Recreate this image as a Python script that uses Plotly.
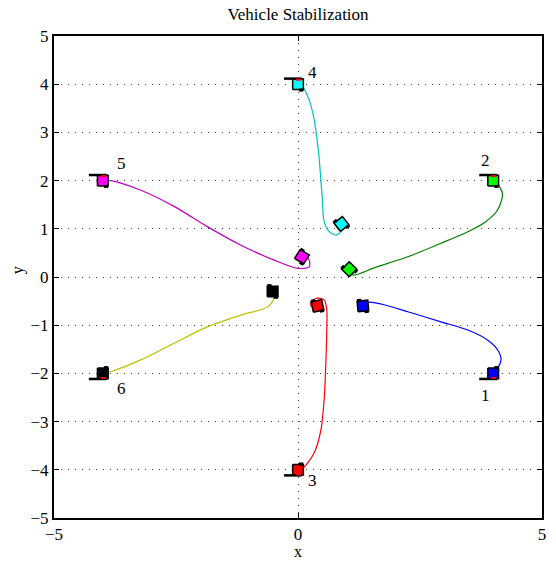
import numpy as np
import plotly.graph_objects as go

# ---------------- data ----------------
veh_ids = ["1", "2", "3", "4", "5", "6"]

traj1_x = [4.0, 4.06, 4.16, 4.09, 3.89, 3.48, 2.93, 2.25, 1.70, 1.46, 1.38, 1.33]
traj1_y = [-2.0, -1.94, -1.72, -1.51, -1.31, -1.10, -0.93, -0.72, -0.56, -0.52, -0.55, -0.60]

traj2_x = [4.0, 4.06, 4.19, 4.09, 3.81, 3.48, 2.93, 2.25, 1.56, 1.15, 0.96, 1.05]
traj2_y = [2.0, 1.97, 1.73, 1.39, 1.12, 0.94, 0.70, 0.42, 0.19, 0.04, 0.10, 0.16]

traj3_x = [0.0, 0.10, 0.33, 0.47, 0.54, 0.57, 0.59, 0.59, 0.54, 0.40, 0.27, 0.27, 0.40]
traj3_y = [-4.0, -3.97, -3.65, -3.17, -2.48, -1.79, -1.10, -0.68, -0.48, -0.44, -0.51, -0.61, -0.60]

traj4_x = [0.0, 0.10, 0.23, 0.32, 0.42, 0.47, 0.50, 0.53, 0.64, 0.78, 0.88, 0.89]
traj4_y = [4.0, 3.94, 3.67, 3.32, 2.60, 2.00, 1.60, 1.18, 0.94, 0.87, 0.94, 1.10]

traj5_x = [-4.0, -3.83, -3.22, -2.53, -1.85, -1.17, -0.49, -0.01, 0.23, 0.23, 0.13, 0.08]
traj5_y = [2.0, 2.0, 1.80, 1.46, 1.04, 0.66, 0.35, 0.18, 0.21, 0.35, 0.46, 0.42]

traj6_x = [-4.0, -3.83, -3.22, -2.53, -1.85, -1.17, -0.62, -0.49, -0.52]
traj6_y = [-2.0, -1.96, -1.72, -1.37, -1.03, -0.79, -0.62, -0.44, -0.30]

trajs_x = [traj1_x, traj2_x, traj3_x, traj4_x, traj5_x, traj6_x]
trajs_y = [traj1_y, traj2_y, traj3_y, traj4_y, traj5_y, traj6_y]

# start-vehicle wheel side (+1 top, -1 bottom), end headings (deg)
start_side = [-1, 1, -1, 1, 1, -1]
end_heading = [5, 45, 12, 38, -32, 0]

label_x = [3.85, 3.85, 0.30, 0.30, -3.62, -3.62]
label_y = [-2.45, 2.42, -4.23, 4.25, 2.35, -2.32]

x_ticks = [-5, 0, 5]
y_ticks = [-5, -4, -3, -2, -1, 0, 1, 2, 3, 4, 5]

# ---------------- styles ----------------
line_colors = ["#0000ff", "#008000", "#ff0000", "#00bfbf", "#bf00bf", "#bfbf00"]
body_colors = ["#0000ff", "#00ff00", "#ff0000", "#00ffff", "#ff00ff", "#000000"]
A = 0.11  # half body size

fig = go.Figure()


def place(pts, cx, cy, th_deg=0.0, flip=1):
    th = np.radians(th_deg)
    c, s = np.cos(th), np.sin(th)
    xs, ys = [], []
    for lx, ly in pts:
        ly = ly * flip
        xs.append(cx + lx * c - ly * s)
        ys.append(cy + lx * s + ly * c)
    return xs, ys


def seg(pts, cx, cy, color, width, th=0.0, flip=1):
    xs, ys = place(pts, cx, cy, th, flip)
    fig.add_trace(go.Scatter(x=xs, y=ys, mode="lines",
                             line=dict(color=color, width=width),
                             showlegend=False, hoverinfo="skip"))


body = [(-A, -A), (A, -A), (A, A), (-A, A), (-A, -A)]

# trajectories
for i in range(6):
    fig.add_trace(go.Scatter(x=trajs_x[i], y=trajs_y[i], mode="lines",
                             line=dict(color=line_colors[i], width=1.2,
                                       shape="spline", smoothing=0.8),
                             showlegend=False, hoverinfo="skip"))

# vehicles
for i in range(6):
    # start vehicle
    cx, cy = trajs_x[i][0], trajs_y[i][0]
    s = start_side[i]
    xs, ys = place(body, cx, cy, 0, s)
    fig.add_trace(go.Scatter(x=xs, y=ys, mode="lines", fill="toself",
                             fillcolor=body_colors[i],
                             line=dict(color="black", width=1.5),
                             showlegend=False, hoverinfo="skip"))
    seg([(-2.6 * A, A * 1.05), (0.7 * A, A * 1.05)], cx, cy, "black", 2.5, 0, s)
    seg([(-0.4 * A, A * 0.85), (0.6 * A, A * 0.85)], cx, cy, "#ff0000", 2, 0, s)
    seg([(0.2 * A, -A * 1.1), (A, -A * 1.1)], cx, cy, "black", 3, 0, s)

    # end vehicle
    cx, cy = trajs_x[i][-1], trajs_y[i][-1]
    th = end_heading[i]
    xs, ys = place(body, cx, cy, th)
    fig.add_trace(go.Scatter(x=xs, y=ys, mode="lines", fill="toself",
                             fillcolor=body_colors[i],
                             line=dict(color="black", width=1.5),
                             showlegend=False, hoverinfo="skip"))
    seg([(-A, A * 1.1), (-0.2 * A, A * 1.1)], cx, cy, "black", 3, th)
    seg([(0.2 * A, -A * 1.1), (A, -A * 1.1)], cx, cy, "black", 3, th)

serif = "Liberation Serif"

annotations = []
for i in range(6):
    annotations.append(dict(x=label_x[i], y=label_y[i], xref="x", yref="y",
                            text=veh_ids[i], showarrow=False,
                            font=dict(family=serif, size=17, color="black")))

annotations.append(dict(x=0.5, y=-0.0705, xref="paper", yref="paper", text="x",
                        xanchor="center", yanchor="middle",
                        showarrow=False, font=dict(family=serif, size=16, color="black")))
annotations.append(dict(x=-0.0738, y=0.514, xref="paper", yref="paper", text="y",
                        xanchor="center", yanchor="middle",
                        textangle=-90, showarrow=False,
                        font=dict(family=serif, size=16, color="black")))

axis_common = dict(showline=True, linecolor="black", linewidth=2, mirror="ticks",
                   ticks="inside", ticklen=5, tickwidth=1, tickcolor="black",
                   showgrid=True, gridcolor="#444444", gridwidth=1, griddash="1px,6px",
                   zeroline=False, automargin=False,
                   tickfont=dict(family=serif, size=17, color="black"))

fig.update_layout(
    width=556, height=564,
    margin=dict(l=54, r=14, t=36, b=46, autoexpand=False),
    paper_bgcolor="white", plot_bgcolor="white",
    title=dict(text="Vehicle Stabilization", x=0.5, xref="paper", xanchor="center",
               y=1 - 14 / 564, yref="container", yanchor="middle", automargin=False,
               pad=dict(t=0, b=0, l=0, r=0),
               font=dict(family=serif, size=17, color="black")),
    xaxis=dict(range=[-5, 5], tickvals=x_ticks, **axis_common),
    yaxis=dict(range=[-5, 5], tickvals=y_ticks, **axis_common),
    annotations=annotations,
    hovermode=False,
)

# remove the default page margin so the figure fills the window exactly
fig.write_html("out.html", config={"displayModeBar": False, "staticPlot": True},
               post_script="document.body.style.margin='0';")
